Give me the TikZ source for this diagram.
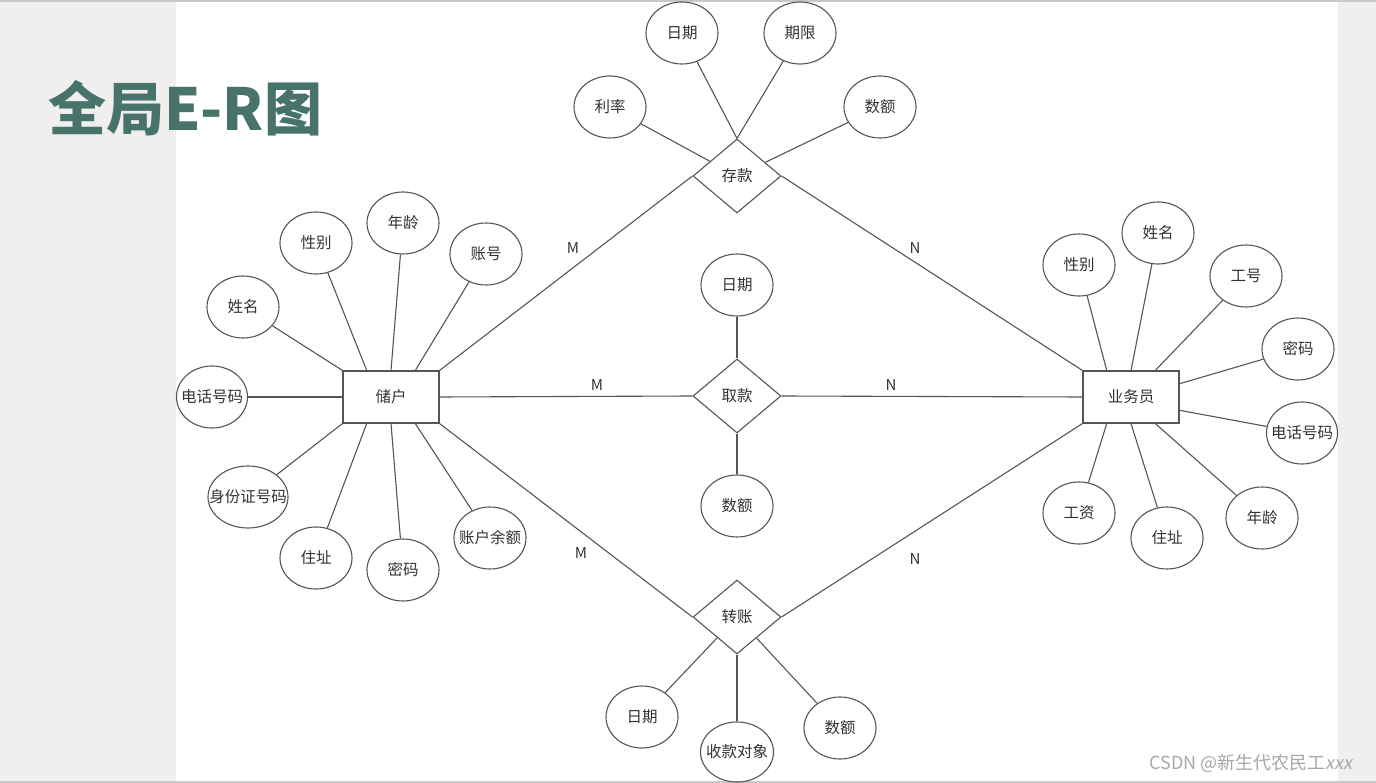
\documentclass[tikz,border=0pt]{standalone}
\usepackage{fontspec}
\setmainfont{Noto Sans CJK SC}
\usetikzlibrary{shapes.geometric,calc}
\definecolor{bggray}{HTML}{F0EFED}
\definecolor{titlegreen}{HTML}{47736A}
\definecolor{ln}{HTML}{555555}
\definecolor{txt}{HTML}{333333}
\definecolor{wmc}{HTML}{A8A8A8}
\definecolor{edgeline}{HTML}{C8C8C8}
\newcommand\zw[1]{\makebox[0pt]{#1}}
\begin{document}
\begin{tikzpicture}[x=1pt,y=-1pt,
  lbl/.style={font=\fontsize{15.5}{18}\selectfont,text=txt},
  attr/.style={ellipse,draw=ln,line width=1.1pt,minimum width=72pt,minimum height=62pt,inner sep=0pt,lbl},
  ent/.style={rectangle,draw=ln,line width=1.1pt,minimum width=96pt,minimum height=52pt,inner sep=0pt,lbl},
  rel/.style={diamond,draw=ln,line width=1.1pt,minimum width=88pt,minimum height=74pt,inner sep=0pt,lbl},
  conn/.style={draw=ln,line width=1.1pt},
  card/.style={font=\fontsize{15}{17}\selectfont,text=txt,inner sep=0pt}]
\useasboundingbox (0,0) rectangle (1376,783);
\fill[bggray] (0,0) rectangle (1376,783);
\fill[white] (176,2) rectangle (1338,781);
\draw[edgeline,line width=1.5pt] (0,1) -- (1376,1);
\draw[edgeline,line width=1.5pt] (0,782) -- (1376,782);

\node[anchor=west,text=titlegreen,font=\fontsize{58}{60}\selectfont\bfseries,inner sep=0pt] (title) at (48,108) {全局E-R图};

% entities
\node[ent] (cu) at (391,397) {储户};
\node[ent] (st) at (1131,397) {业务员};
% relations
\node[rel] (ck) at (737,176) {存款};
\node[rel] (qk) at (737,396) {取款};
\node[rel] (zz) at (737,617) {转账};

% 存款 attributes
\node[attr] (ck1) at (682,33) {日期};
\node[attr] (ck2) at (800,33) {期限};
\node[attr] (ck3) at (610,107) {利率};
\node[attr] (ck4) at (880,107) {数额};
% 取款 attributes
\node[attr] (qk1) at (737,285) {日期};
\node[attr] (qk2) at (737,506) {数额};
% 转账 attributes
\node[attr] (zz1) at (642,717) {日期};
\node[attr,minimum width=73pt,minimum height=60pt] (zz2) at (737,752) {\zw{收款对象}};
\node[attr] (zz3) at (840,728) {数额};

% 储户 attributes
\node[attr] (c1) at (243,307) {姓名};
\node[attr] (c2) at (316,243) {性别};
\node[attr] (c3) at (403,223) {年龄};
\node[attr] (c4) at (486,254) {账号};
\node[attr,minimum width=71pt] (c5) at (212,397) {\zw{电话号码}};
\node[attr,minimum width=80pt] (c6) at (248,497) {\zw{身份证号码}};
\node[attr] (c7) at (316,558) {住址};
\node[attr] (c8) at (403,570) {密码};
\node[attr] (c9) at (490,538) {\zw{账户余额}};

% 业务员 attributes
\node[attr] (s1) at (1079,265) {性别};
\node[attr] (s2) at (1158,233) {姓名};
\node[attr] (s3) at (1246,276) {工号};
\node[attr] (s4) at (1298,349) {密码};
\node[attr,minimum width=71pt] (s5) at (1302,433) {\zw{电话号码}};
\node[attr] (s6) at (1262,518) {年龄};
\node[attr] (s7) at (1167,538) {住址};
\node[attr] (s8) at (1079,513) {工资};

% connection points on entities
\coordinate (cuT1) at ($(cu.north west)!0.25!(cu.north east)$);
\coordinate (cuT2) at ($(cu.north west)!0.5!(cu.north east)$);
\coordinate (cuT3) at ($(cu.north west)!0.75!(cu.north east)$);
\coordinate (cuB1) at ($(cu.south west)!0.25!(cu.south east)$);
\coordinate (cuB2) at ($(cu.south west)!0.5!(cu.south east)$);
\coordinate (cuB3) at ($(cu.south west)!0.75!(cu.south east)$);
\coordinate (stT1) at ($(st.north west)!0.25!(st.north east)$);
\coordinate (stT2) at ($(st.north west)!0.5!(st.north east)$);
\coordinate (stT3) at ($(st.north west)!0.75!(st.north east)$);
\coordinate (stB1) at ($(st.south west)!0.25!(st.south east)$);
\coordinate (stB2) at ($(st.south west)!0.5!(st.south east)$);
\coordinate (stB3) at ($(st.south west)!0.75!(st.south east)$);
\coordinate (stR1) at ($(st.north east)!0.25!(st.south east)$);
\coordinate (stR3) at ($(st.north east)!0.75!(st.south east)$);

% 储户 attribute lines
\draw[conn] (cu.north west) -- (c1);
\draw[conn] (cuT1) -- (c2);
\draw[conn] (cuT2) -- (c3);
\draw[conn] (cuT3) -- (c4);
\draw[conn] (cu.west) -- (c5);
\draw[conn] (cu.south west) -- (c6);
\draw[conn] (cuB1) -- (c7);
\draw[conn] (cuB2) -- (c8);
\draw[conn] (cuB3) -- (c9);

% 业务员 attribute lines
\draw[conn] (stT1) -- (s1);
\draw[conn] (stT2) -- (s2);
\draw[conn] (stT3) -- (s3);
\draw[conn] (stR1) -- (s4);
\draw[conn] (stR3) -- (s5);
\draw[conn] (stB3) -- (s6);
\draw[conn] (stB2) -- (s7);
\draw[conn] (stB1) -- (s8);

% relation attribute lines
\draw[conn] (ck.north) -- (ck1);
\draw[conn] (ck.north) -- (ck2);
\draw[conn] (ck) -- (ck3);
\draw[conn] (ck) -- (ck4);
\draw[conn] (qk) -- (qk1);
\draw[conn] (qk) -- (qk2);
\draw[conn] (zz) -- (zz1);
\draw[conn] (zz.south) -- (zz2);
\draw[conn] (zz) -- (zz3);

% relationships
\draw[conn] (cu.north east) -- (ck.west);
\draw[conn] (cu.east) -- (qk.west);
\draw[conn] (cu.south east) -- (zz.west);
\draw[conn] (ck.east) -- (st.north west);
\draw[conn] (qk.east) -- (st.west);
\draw[conn] (zz.east) -- (st.south west);

% cardinalities
\node[card] (m1) at (573,248) {M};
\node[card] (n1) at (915,248) {N};
\node[card] (m2) at (597,385) {M};
\node[card] (n2) at (891,385) {N};
\node[card] (m3) at (581,553) {M};
\node[card] (n3) at (915,559) {N};

% watermark
\node[text=wmc,font=\fontsize{18}{20}\selectfont,inner sep=0pt] (wm) at (1251,763) {CSDN @新生代农民工{\addfontfeature{FakeSlant=0.2}xxx}};
\end{tikzpicture}
\end{document}
